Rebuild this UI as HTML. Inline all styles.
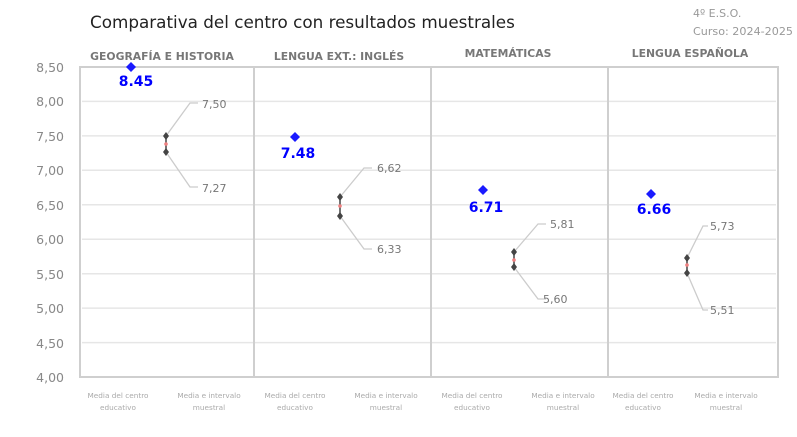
<!DOCTYPE html>
<html><head><meta charset="utf-8"><style>
body{margin:0;background:#fff;}
svg{display:block;font-family:"DejaVu Sans","Liberation Sans",sans-serif;}
</style></head><body>
<svg width="797" height="437" viewBox="0 0 797 437">
<text x="90" y="28" font-size="16.8" fill="#222">Comparativa del centro con resultados muestrales</text>
<text x="693" y="17" font-size="11" fill="#999">4º E.S.O.</text>
<text x="693" y="35" font-size="11" fill="#999" textLength="100" lengthAdjust="spacingAndGlyphs">Curso: 2024-2025</text>
<g font-size="10.8" font-weight="bold" fill="#777" text-anchor="middle">
<text x="162" y="60">GEOGRAFÍA E HISTORIA</text>
<text x="339" y="60">LENGUA EXT.: INGLÉS</text>
<text x="508" y="57">MATEMÁTICAS</text>
<text x="690" y="57">LENGUA ESPAÑOLA</text>
</g>
<g stroke="#e6e6e6" stroke-width="1.5">
<line x1="82" x2="776" y1="101.4" y2="101.4"/><line x1="82" x2="776" y1="135.9" y2="135.9"/>
<line x1="82" x2="776" y1="170.3" y2="170.3"/><line x1="82" x2="776" y1="204.8" y2="204.8"/>
<line x1="82" x2="776" y1="239.2" y2="239.2"/><line x1="82" x2="776" y1="273.7" y2="273.7"/>
<line x1="82" x2="776" y1="308.1" y2="308.1"/><line x1="82" x2="776" y1="342.6" y2="342.6"/>
</g>
<g stroke="#cfcfcf" stroke-width="2" fill="none">
<rect x="80" y="67" width="698" height="310"/>
<line x1="254" x2="254" y1="67" y2="377"/><line x1="431" x2="431" y1="67" y2="377"/><line x1="608" x2="608" y1="67" y2="377"/>
</g>
<g font-size="12.5" fill="#888" text-anchor="end">
<text x="64" y="72">8,50</text><text x="64" y="106">8,00</text><text x="64" y="141">7,50</text>
<text x="64" y="175">7,00</text><text x="64" y="210">6,50</text><text x="64" y="244">6,00</text>
<text x="64" y="279">5,50</text><text x="64" y="313">5,00</text><text x="64" y="348">4,50</text>
<text x="64" y="382">4,00</text>
</g>
<g font-size="7.3" fill="#aaa" text-anchor="middle">
<text x="118" y="398">Media del centro</text><text x="118" y="410">educativo</text>
<text x="209" y="398">Media e intervalo</text><text x="209" y="410">muestral</text>
<text x="295" y="398">Media del centro</text><text x="295" y="410">educativo</text>
<text x="386" y="398">Media e intervalo</text><text x="386" y="410">muestral</text>
<text x="472" y="398">Media del centro</text><text x="472" y="410">educativo</text>
<text x="563" y="398">Media e intervalo</text><text x="563" y="410">muestral</text>
<text x="643" y="398">Media del centro</text><text x="643" y="410">educativo</text>
<text x="726" y="398">Media e intervalo</text><text x="726" y="410">muestral</text>
</g>
<g stroke="#ccc" stroke-width="1.3" fill="none">
<polyline points="166,136 190,103 198,103"/><polyline points="166,152 190,187 198,187"/>
<polyline points="340,197 364,168 372,168"/><polyline points="340,216 364,249 372,249"/>
<polyline points="514,252 538,224 546,224"/><polyline points="514,267 538,299 546,299"/>
<polyline points="687,258 703,226 708,226"/><polyline points="687,273 703,310 708,310"/>
</g>
<g font-size="11" fill="#777">
<text x="202" y="108">7,50</text><text x="202" y="192">7,27</text>
<text x="377" y="172">6,62</text><text x="377" y="253">6,33</text>
<text x="550" y="228">5,81</text><text x="543" y="303">5,60</text>
<text x="710" y="230">5,73</text><text x="710" y="314">5,51</text>
</g>
<g stroke="#444" stroke-width="1.5">
<line x1="166" x2="166" y1="136" y2="152"/><line x1="340" x2="340" y1="197" y2="216"/>
<line x1="514" x2="514" y1="252" y2="267"/><line x1="687" x2="687" y1="258" y2="273"/>
</g>
<g fill="#444">
<path d="M166,132l3,4-3,4-3-4z"/><path d="M166,148l3,4-3,4-3-4z"/>
<path d="M340,193l3,4-3,4-3-4z"/><path d="M340,212l3,4-3,4-3-4z"/>
<path d="M514,248l3,4-3,4-3-4z"/><path d="M514,263l3,4-3,4-3-4z"/>
<path d="M687,254l3,4-3,4-3-4z"/><path d="M687,269l3,4-3,4-3-4z"/>
</g>
<g fill="#f08080">
<circle cx="166" cy="144" r="1.8"/><circle cx="340" cy="206" r="1.8"/><circle cx="514" cy="260" r="1.8"/><circle cx="687" cy="265" r="1.8"/>
</g>
<g fill="#1a1aff">
<path d="M131,62l5,5-5,5-5-5z"/><path d="M295,132l5,5-5,5-5-5z"/>
<path d="M483,185l5,5-5,5-5-5z"/><path d="M651,189l5,5-5,5-5-5z"/>
</g>
<g font-size="14" font-weight="bold" fill="#0000ff" text-anchor="middle">
<text x="136" y="86">8.45</text><text x="298" y="158">7.48</text>
<text x="486" y="212">6.71</text><text x="654" y="214">6.66</text>
</g>
</svg>
</body></html>
